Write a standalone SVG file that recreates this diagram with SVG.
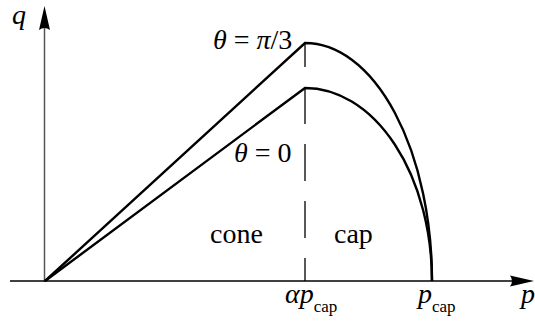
<svg xmlns="http://www.w3.org/2000/svg" width="535" height="325" viewBox="0 0 535 325">
<style>
.c{fill:none;stroke:#000;stroke-width:2.4}
</style>
<rect width="535" height="325" fill="#fff"/>
<g id="axes">
<line x1="44.5" y1="282" x2="44.5" y2="26" stroke="#555" stroke-width="1.5"/>
<path d="M44.5 6 L50 30 Q44.5 26 39 30 Z" fill="#000"/>
<line x1="10" y1="281" x2="512" y2="281" stroke="#000" stroke-width="1.5"/>
<path d="M534 281 L510 275.5 Q514 281 510 286.5 Z" fill="#000"/>
</g>
<g id="connectors">
<line x1="305" y1="43" x2="305" y2="281" stroke="#000" stroke-width="1.3" stroke-dasharray="37 20" stroke-dashoffset="13"/>
<path class="c" d="M45 281 L305 43 A127 238 0 0 1 432 281"/>
<path class="c" d="M45 281 L305 88 A127 193 0 0 1 432 281"/>
</g>
<g id="labels">
<text x="12" y="24" font-family="Liberation Serif" font-size="28" font-style="italic">q</text>
<text x="521" y="303" font-family="Liberation Serif" font-size="28" font-style="italic">p</text>
<text x="213" y="49" font-family="Liberation Serif" font-size="28"><tspan font-style="italic">θ</tspan> = <tspan font-style="italic">π</tspan>/3</text>
<text x="234" y="162" font-family="Liberation Serif" font-size="28"><tspan font-style="italic">θ</tspan> = 0</text>
<text x="210" y="243" font-family="Liberation Serif" font-size="28">cone</text>
<text x="334" y="243" font-family="Liberation Serif" font-size="28">cap</text>
<text x="285" y="303" font-family="Liberation Serif" font-size="28"><tspan font-style="italic">αp</tspan><tspan font-size="17" dy="9">cap</tspan></text>
<text x="418" y="303" font-family="Liberation Serif" font-size="28"><tspan font-style="italic">p</tspan><tspan font-size="17" dy="9">cap</tspan></text>
</g>
</svg>
